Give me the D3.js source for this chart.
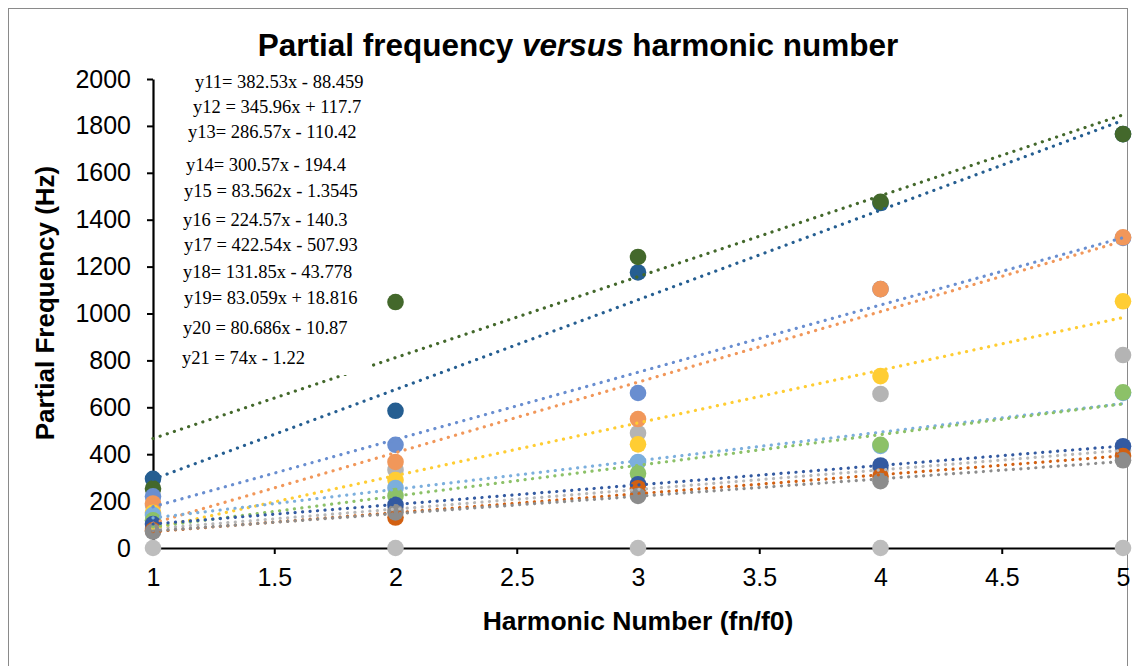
<!DOCTYPE html>
<html>
<head>
<meta charset="utf-8">
<script src="https://cdn.jsdelivr.net/npm/d3@7/dist/d3.min.js"></script>
<style>
  html, body { margin: 0; padding: 0; background: #fff; }
  svg { display: block; }
</style>
</head>
<body>
<svg id="chart" width="1136" height="666"></svg>
<script>
// Harmonic numbers (x values)
const harmonics = [1, 2, 3, 4, 5];
const xTicks = [1, 1.5, 2, 2.5, 3, 3.5, 4, 4.5, 5];
const yTicks = [0, 200, 400, 600, 800, 1000, 1200, 1400, 1600, 1800, 2000];

// Measured partial frequencies (Hz) for each fitted series
const s11 = [295, 585, 1175, 1471, 1765];
const s12 = [253, 1049, 1241, 1476, 1765];
const s13 = [220, 440, 661, 1104, 1322];
const s14 = [190, 367, 550, 1104, 1325];
const s15 = [82, 166, 250, 333, 416];
const s16 = [150, 290, 442, 733, 1052];
const s17 = [141, 256, 367, 435, 661];
const s18 = [118, 222, 318, 440, 664];
const s19 = [102, 184, 272, 352, 434];
const s20 = [75, 130, 255, 305, 392];
const s21 = [70, 152, 222, 285, 374];

// Series plotted without a trendline
const sExtra = [183, 333, 490, 657, 823];
const sZero = [0, 0, 0, 0, 0];

const fitted = [s11, s12, s13, s14, s15, s16, s17, s18, s19, s20, s21];
const fittedColors = ["#255E91", "#43682B", "#698ED0", "#F1975A", "#B7B7B7",
                      "#FFCD33", "#7CAFDD", "#8CC168", "#335AA1", "#D26012", "#8C8C8C"];
const extraColor = "#B4B4B4";
const zeroColor = "#BDBDBD";

// Trendline equations as printed on the chart
const equations = [
  "y11= 382.53x - 88.459",
  "y12 = 345.96x + 117.7",
  "y13= 286.57x - 110.42",
  "y14= 300.57x - 194.4",
  "y15 = 83.562x - 1.3545",
  "y16 = 224.57x - 140.3",
  "y17 = 422.54x - 507.93",
  "y18= 131.85x - 43.778",
  "y19= 83.059x + 18.816",
  "y20 = 80.686x - 10.87",
  "y21 = 74x - 1.22"
];
const eqX = [195, 193, 188, 186, 184, 183, 184, 183, 184, 183, 182];
const eqY = [82, 107, 132, 165, 191, 220, 245, 272, 298, 328, 358];

const svg = d3.select("#chart");

// chart frame
svg.append("rect").attr("x", 8.5).attr("y", 8.5).attr("width", 1119).attr("height", 700)
  .attr("fill", "#fff").attr("stroke", "#8a8a8a").attr("stroke-width", 1);

const x = d3.scaleLinear().domain([1, 5]).range([153, 1123]);
const y = d3.scaleLinear().domain([0, 2000]).range([548, 79]);

const sans = "'Liberation Sans', Arial, sans-serif";
const serif = "'Liberation Serif', 'Times New Roman', serif";

// axes
const yAxis = d3.axisLeft(y).tickValues(yTicks).tickSize(6).tickSizeOuter(0).tickPadding(16)
  .tickFormat(d3.format("d"));
const xAxis = d3.axisBottom(x).tickValues(xTicks).tickSize(6).tickSizeOuter(0).tickPadding(14)
  .tickFormat(d => String(d));

const gy = svg.append("g").attr("transform", `translate(${x(1)},0)`).call(yAxis);
const gx = svg.append("g").attr("transform", `translate(0,${y(0)})`).call(xAxis);
[gx, gy].forEach(g => {
  g.select(".domain").attr("stroke", "#000").attr("stroke-width", 2.2);
  g.selectAll(".tick line").attr("stroke", "#000").attr("stroke-width", 2);
  g.selectAll(".tick text").attr("fill", "#000").style("font-family", sans).style("font-size", "25px");
});

// markers
const pts = svg.append("g");
function drawSeries(vals, color) {
  pts.append("g").selectAll("circle").data(harmonics.map((h, i) => [h, vals[i]]))
    .join("circle")
    .attr("cx", d => x(d[0])).attr("cy", d => y(d[1]))
    .attr("r", 8.3).attr("fill", color);
}
drawSeries(sZero, zeroColor);
drawSeries(sExtra, extraColor);
fitted.forEach((s, i) => drawSeries(s, fittedColors[i]));

// least-squares linear trendlines
function linearFit(xs, ys) {
  const n = xs.length;
  const mx = d3.mean(xs), my = d3.mean(ys);
  let sxy = 0, sxx = 0;
  for (let i = 0; i < n; i++) { sxy += (xs[i] - mx) * (ys[i] - my); sxx += (xs[i] - mx) ** 2; }
  const m = sxy / sxx;
  return { m, b: my - m * mx };
}
const lines = svg.append("g");
fitted.forEach((s, i) => {
  const f = linearFit(harmonics, s);
  const x0 = d3.min(harmonics), x1 = d3.max(harmonics);
  lines.append("line")
    .attr("x1", x(x0)).attr("y1", y(f.m * x0 + f.b))
    .attr("x2", x(x1)).attr("y2", y(f.m * x1 + f.b))
    .attr("stroke", fittedColors[i]).attr("stroke-width", 3.2)
    .attr("stroke-linecap", "round").attr("stroke-dasharray", "0.1 7.4");
});

// equation labels; the last one sits in a white box over the plot
const eqG = svg.append("g");
equations.forEach((t, i) => {
  if (i === equations.length - 1) {
    eqG.append("rect").attr("x", 176).attr("y", eqY[i] - 16).attr("width", 196).attr("height", 33)
      .attr("fill", "#fff");
  }
  eqG.append("text").attr("x", eqX[i]).attr("y", eqY[i]).attr("dy", "0.35em")
    .style("font-family", serif).style("font-size", "18.5px").attr("fill", "#000")
    .text(t);
});

// title
const title = svg.append("text").attr("x", 578).attr("y", 56).attr("text-anchor", "middle")
  .style("font-family", sans).style("font-size", "31.5px").style("font-weight", "bold").attr("fill", "#000");
title.append("tspan").text("Partial frequency ");
title.append("tspan").style("font-style", "italic").text("versus");
title.append("tspan").text(" harmonic number");

// axis titles
svg.append("text").attr("x", 638).attr("y", 630).attr("text-anchor", "middle")
  .style("font-family", sans).style("font-size", "26.5px").style("font-weight", "bold")
  .text("Harmonic Number (fn/f0)");
svg.append("text").attr("transform", "translate(54,303) rotate(-90)").attr("text-anchor", "middle")
  .style("font-family", sans).style("font-size", "26px").style("font-weight", "bold")
  .text("Partial Frequency (Hz)");
</script>
</body>
</html>
